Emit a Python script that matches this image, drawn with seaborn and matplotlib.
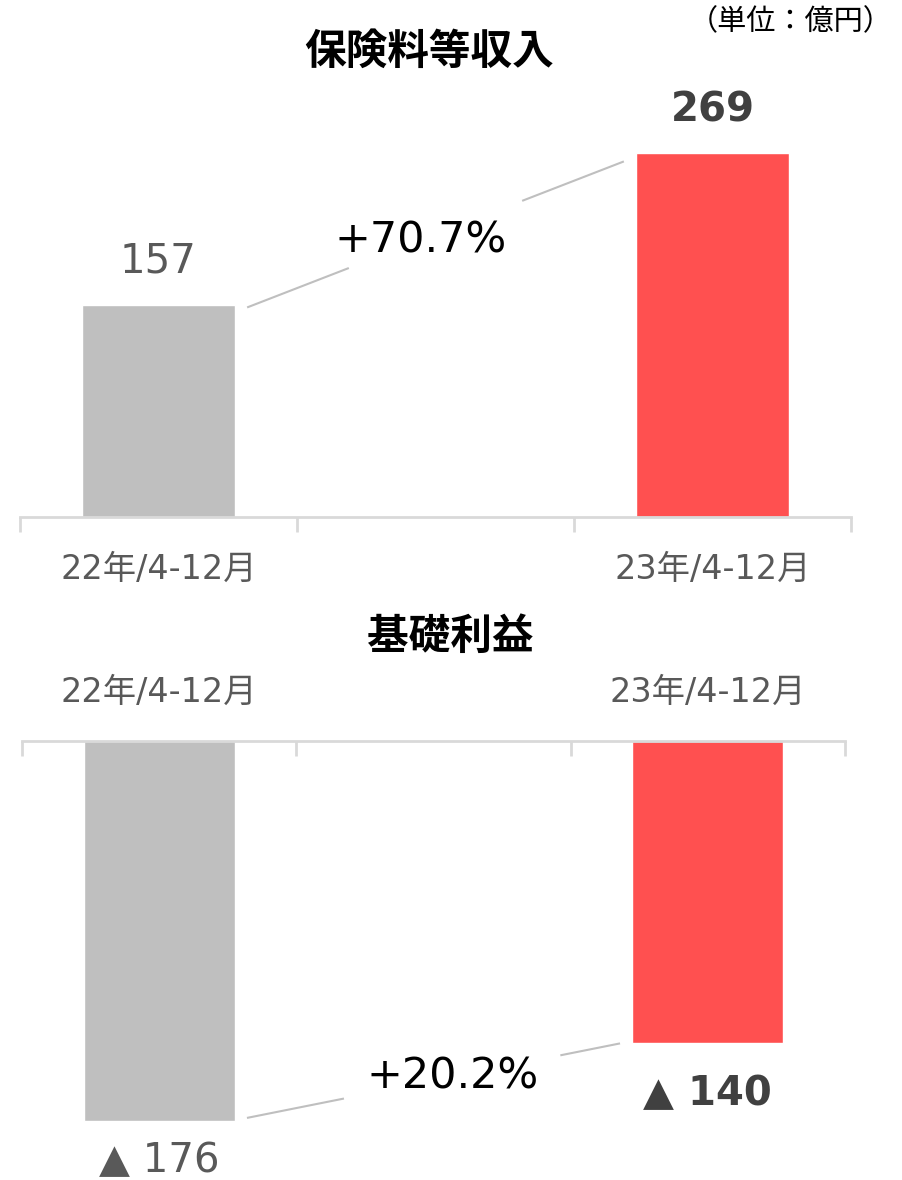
import numpy as np
import pandas as pd
import matplotlib.pyplot as plt
import seaborn as sns

# データ
periods = ["22年/4-12月", "23年/4-12月"]
slots = ["22年/4-12月", "", "23年/4-12月"]   # 真ん中は空き
premium = [157, 269]          # 保険料等収入
basic_profit = [-176, -140]   # 基礎利益
premium_growth = "+70.7%"
profit_growth = "+20.2%"
bar_colors = ["#BFBFBF", "#FF5050"]

sns.set_style("white")
plt.rcParams['font.family'] = ['DejaVu Sans', 'Noto Sans CJK JP']

W, H = 903, 1180
fig = plt.figure(figsize=(W / 100, H / 100), dpi=100)


def rect(x0, y0, x1, y1):
    return [x0 / W, 1 - y1 / H, (x1 - x0) / W, (y1 - y0) / H]


pal = dict(zip(periods, bar_colors))
axis_col = "#D9D9D9"
lab_col = "#595959"


def connector(ax, v1, v2, t0, t1, txt, t_txt):
    xa, xb = 0.32, 1.68
    ya, yb = v1, v2
    for s, e in [(0, t0), (t1, 1)]:
        ax.plot([xa + (xb - xa) * s, xa + (xb - xa) * e],
                [ya + (yb - ya) * s, ya + (yb - ya) * e],
                color="#BFBFBF", lw=1.5, solid_capstyle="butt")
    ax.text(xa + (xb - xa) * t_txt, ya + (yb - ya) * t_txt, txt,
            ha="center", va="center", fontsize=31, color="black")


def style_axis(ax, top):
    ax.set_xlim(-0.5, 2.5)
    ax.set_xlabel("")
    ax.set_ylabel("")
    ax.set_yticks([])
    for s in ["left", "right", "top", "bottom"]:
        ax.spines[s].set_visible(False)
    sp = "top" if top else "bottom"
    ax.spines[sp].set_visible(True)
    ax.spines[sp].set_color(axis_col)
    ax.spines[sp].set_linewidth(2)
    ax.set_xticks([0, 2])
    ax.set_xticklabels(periods, fontsize=24, color=lab_col)
    ax.set_xticks([-0.5, 0.5, 1.5, 2.5], minor=True)
    if top:
        ax.xaxis.tick_top()
        ax.tick_params(axis="x", which="major", length=0, pad=23)
        ax.tick_params(axis="x", which="minor", length=11, width=2,
                       color=axis_col, direction="in", top=True, bottom=False)
    else:
        ax.tick_params(axis="x", which="major", length=0, pad=26)
        ax.tick_params(axis="x", which="minor", length=11, width=2,
                       color=axis_col, direction="out", bottom=True, top=False)


# 上段：保険料等収入
df1 = pd.DataFrame({"period": periods, "value": premium})
ax1 = fig.add_axes(rect(20, 100, 851, 517))
sns.barplot(data=df1, x="period", y="value", order=slots, hue="period",
            palette=pal, width=0.55, legend=False, ax=ax1, saturation=1)
ax1.set_ylim(0, 417 / 1.352)
style_axis(ax1, top=False)
for i, (x, v) in enumerate(zip([0, 2], premium)):
    ax1.annotate(f"{v}", (x, v), xytext=(0, 43), textcoords="offset pixels",
                 ha="center", va="center", fontsize=29,
                 fontweight="bold" if i == 1 else "normal",
                 color="#404040" if i == 1 else lab_col)
connector(ax1, premium[0] - 2, premium[1] - 6, 0.27, 0.73, premium_growth, 0.46)

# 下段：基礎利益
df2 = pd.DataFrame({"period": periods, "value": basic_profit})
ax2 = fig.add_axes(rect(22, 741, 845, 1140))
sns.barplot(data=df2, x="period", y="value", order=slots, hue="period",
            palette=pal, width=0.55, legend=False, ax=ax2, saturation=1)
ax2.set_ylim(-399 / 2.16, 0)
style_axis(ax2, top=True)
for i, (x, v) in enumerate(zip([0, 2], basic_profit)):
    ax2.annotate(f"▲ {abs(v)}", (x, v), xytext=(0, -40 - 11 * i),
                 textcoords="offset pixels", ha="center", va="center",
                 fontsize=29, fontweight="bold" if i == 1 else "normal",
                 color="#404040" if i == 1 else lab_col)
connector(ax2, basic_profit[0] + 1.5, basic_profit[1], 0.26, 0.84, profit_growth, 0.55)

# タイトル
fig.text(429 / W, 1 - 52 / H, "保険料等収入", ha="center", va="center",
         fontsize=30, fontweight="bold", color="black")
fig.text(450 / W, 1 - 637 / H, "基礎利益", ha="center", va="center",
         fontsize=30, fontweight="bold", color="black")
fig.text(893 / W, 1 - 22 / H, "（単位：億円）", ha="right", va="center",
         fontsize=21, color="black", family=['Noto Sans CJK JP'])

fig.savefig("out.png", dpi=100)
